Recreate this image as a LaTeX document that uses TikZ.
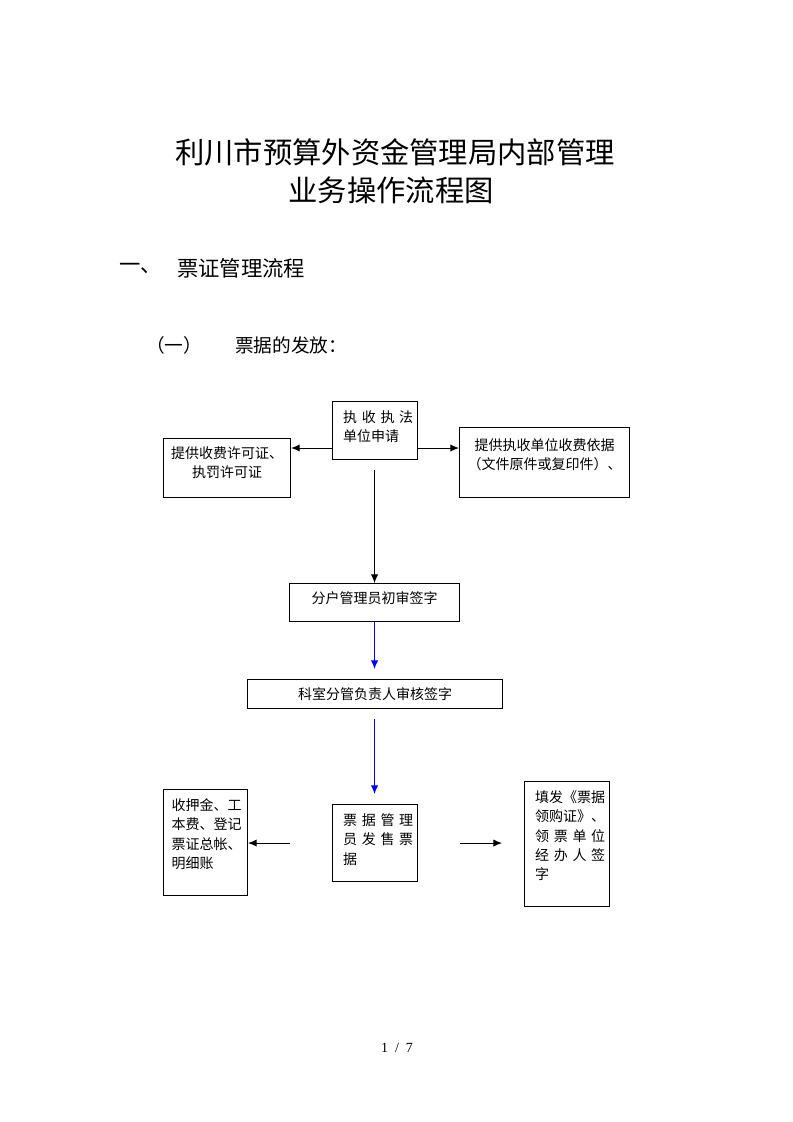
\documentclass[tikz,border=0pt]{standalone}
\usepackage{fontspec}
\setmainfont{Liberation Serif}
\newfontfamily\cjk{Noto Sans CJK SC}
\usetikzlibrary{arrows.meta,positioning}

\begin{document}
\begin{tikzpicture}[
  x=0.75pt,
  y=-0.75pt,
  >={Latex[length=6.5pt,width=5.5pt]},
  flow/.style={->,line width=.75pt},
  box/.style={draw,line width=.8pt,inner ysep=0pt,anchor=north west,
    font=\cjk\fontsize{10.5pt}{14.5pt}\selectfont},
  leftbox/.style={box,align=left,inner xsep=8pt},
  midbox/.style={box,align=center,inner xsep=0pt},
  heading/.style={inner sep=0pt,font=\cjk\fontsize{22pt}{26pt}\selectfont},
  section/.style={inner sep=0pt,anchor=west,font=\cjk\fontsize{16pt}{19pt}\selectfont},
  subsection/.style={inner sep=0pt,anchor=west,font=\cjk\fontsize{14pt}{17pt}\selectfont}
]
\useasboundingbox[fill=white] (0,0) rectangle (793,1122);

% headings
\node[heading] (title1) at (395,152) {利川市预算外资金管理局内部管理};
\node[heading] (title2) at (391,190) {业务操作流程图};
\node[section] (secnum) at (119,268) {一、};
\node[section] (sectitle) at (177,268) {票证管理流程};
\node[subsection] (subnum) at (146,345) {（一）};
\node[subsection] (subtitle) at (235,345) {票据的发放：};

% boxes
\node[leftbox,text width=47.75pt,text height=15.75pt,text depth=27.75pt] (apply) at (332,401)
  {执~收~执~法\\单位申请};
\node[midbox,text width=95.25pt,text height=15pt,text depth=29.25pt] (permit) at (163,438)
  {提供收费许可证、\\执罚许可证};
\node[midbox,text width=127.5pt,text height=17.25pt,text depth=35.25pt] (basis) at (459,427)
  {提供执收单位收费依据\\（文件原件或复印件）、};
\node[midbox,text width=127.5pt,text height=15pt,text depth=13.5pt] (check) at (289,583)
  {分户管理员初审签字};
\node[midbox,text width=191.25pt,text height=15pt,text depth=6.75pt] (review) at (247,679)
  {科室分管负责人审核签字};
\node[leftbox,text width=47.75pt,text height=15.75pt,text depth=42pt] (issue) at (332,804)
  {票~据~管~理\\员~发~售~票\\据};
\node[leftbox,inner xsep=6pt,text width=51pt,text height=15.75pt,text depth=63.75pt] (ledger) at (163,789)
  {收押金、工\\本费、登记\\票证总帐、\\明细账};
\node[leftbox,text width=47.75pt,text height=15.75pt,text depth=78pt] (voucher) at (524,781)
  {填发《票据\\领购证》、\\领~票~单~位\\经~办~人~签\\字};

% page number
\node[inner sep=0pt,font=\fontsize{10.5pt}{12pt}\selectfont] (page) at (397,1048) {1~~/~~7};

% connectors
\draw[flow] (apply.west |- 0,448) -- (permit.east |- 0,448);
\draw[flow] (apply.east |- 0,448) -- (basis.west |- 0,448);
\draw[flow] ([yshift=-7.5pt]check.north |- apply.south) -- (check.north);
\draw[flow,blue] (check.south) -- ([yshift=7.5pt]check.south |- review.north);
\draw[flow,blue] ([yshift=-7.5pt]check.south |- review.south) -- ([yshift=7.5pt]check.south |- issue.north);
\draw[flow] ([xshift=-31.5pt]issue.west) -- (ledger.east |- issue.west);
\draw[flow] ([xshift=31.5pt]issue.east) -- ([xshift=-16.5pt]voucher.west |- issue.east);

\end{tikzpicture}
\end{document}
